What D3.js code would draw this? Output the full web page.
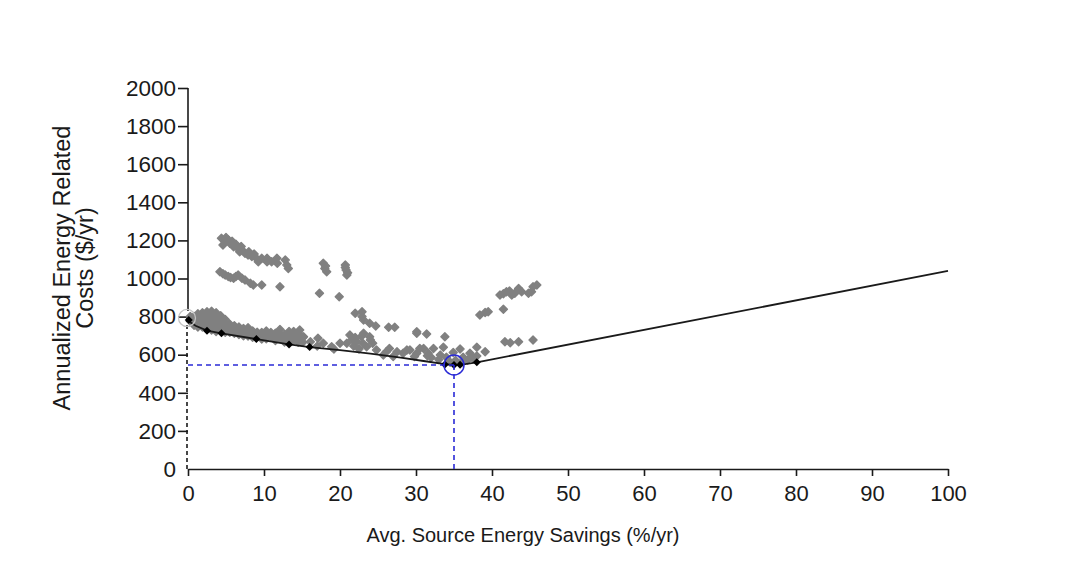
<!DOCTYPE html>
<html><head><meta charset="utf-8">
<script src="https://cdn.jsdelivr.net/npm/d3@7"></script>
<style>body{margin:0;background:#fff} text{font-family:"Liberation Sans",Arial,sans-serif}</style>
</head><body><svg id="c" width="1081" height="563"></svg>
<script>
// ---------- data ----------
const xTicks = [0,10,20,30,40,50,60,70,80,90,100];
const yTicks = [0,200,400,600,800,1000,1200,1400,1600,1800,2000];
const xTitle = "Avg. Source Energy Savings (%/yr)";
const yTitleLines = ["Annualized Energy Related", "Costs ($/yr)"];

// simulated alternatives (savings %, cost $/yr)
const upperBand = [[4.4,1211],[4.9,1193],[4.6,1176],[5.3,1202],[5.5,1185],[6.0,1167],[6.6,1158],[7.1,1150],[7.5,1132],[7.9,1123],[8.4,1115],[9.0,1106],[9.7,1106],[9.25,1088],[10.4,1106],[10.4,1088],[11.0,1088],[11.7,1106],[11.75,1080],[12.8,1097],[13.0,1071],[13.2,1053],[5.0,1215],[5.8,1195],[6.3,1180],[7.0,1168],[8.0,1140],[8.7,1128],[6.8,1140]];
const middleBand = [[4.2,1036],[4.9,1018],[5.3,1010],[6.0,1001],[6.6,1018],[7.1,1001],[7.5,992],[8.2,975],[8.6,966],[9.7,966],[12.1,957],[4.6,1025],[5.6,1005],[6.3,1010]];
const midScatter = [[17.8,1080],[18.0,1053],[18.25,1036],[18.1,1065],[20.7,1071],[20.8,1045],[20.9,1018],[20.7,1058],[21.0,1030],[17.3,922],[19.9,904],[22.0,817],[22.9,826],[22.9,800],[23.1,782],[23.9,765],[24.7,751],[26.4,744],[27.2,744],[30.1,712],[31.4,709],[33.8,694],[23.9,694],[30.1,720]];
const rightCluster = [[41.05,913],[41.9,931],[42.6,913],[43.0,922],[43.5,948],[43.9,931],[44.8,922],[45.2,931],[45.4,957],[45.9,966],[41.5,920],[42.3,935],[38.4,808],[39.1,821],[39.5,826],[41.5,838],[41.7,668],[42.4,663],[43.5,668],[45.4,677]];
const nearFrontLeft = [
 [0.3,800],[0.3,775],[0.8,800],[0.8,775],[0.8,755],
 [1.3,815],[1.3,790],[1.3,765],[1.3,745],[1.9,820],[1.9,795],[1.9,770],[1.9,745],
 [2.5,825],[2.5,800],[2.5,775],[2.5,750],[2.5,735],[3.1,828],[3.1,805],[3.1,780],[3.1,755],[3.1,730],
 [3.7,820],[3.7,795],[3.7,770],[3.7,745],[3.7,722],[4.3,805],[4.3,780],[4.3,755],[4.3,730],
 [4.9,785],[4.9,760],[4.9,735],[4.9,718],[5.5,760],[5.5,738],[5.5,718],[6.1,752],[6.1,730],[6.1,712],
 [6.7,745],[6.7,722],[6.7,706],[7.3,738],[7.3,716],[7.3,700],[7.9,742],[7.9,720],[7.9,698],
 [8.5,725],[8.5,705],[8.5,692],[9.1,718],[9.1,698],[9.7,716],[9.7,695],[9.7,682],
 [10.3,725],[10.3,703],[10.3,684],[10.9,717],[10.9,695],[11.5,712],[11.5,690],[11.5,674],
 [12.1,732],[12.1,708],[12.1,686],[12.7,708],[12.7,685],[12.7,667],[13.3,722],[13.3,700],[13.3,678],
 [13.9,722],[13.9,700],[13.9,676],[14.5,715],[14.5,690],[14.5,665],[15.1,690],[15.1,665]];
const nearFrontRight = [[14.7,730],[15.2,694],[16.1,668],[17.1,686],[17.8,660],[18.9,642],[20.0,660],[19.2,630],[17.0,645],
 [21.3,703],[23.1,712],[24.0,677],[22.2,668],[20.9,660],[23.5,642],[22.0,690],[22.8,695],[21.6,680],[23.0,660],[24.3,660],[21.8,645],[22.5,630],
 [24.8,625],[26.1,616],[27.5,616],[28.3,607],[29.2,625],[30.1,607],[31.0,633],[31.6,607],[25.7,598],[27.0,590],[28.8,625],[30.5,633],
 [32.3,633],[33.6,639],[35.8,630],[38.0,639],[39.1,616],[34.9,611],[37.1,607],[33.2,598],[34.0,586],[36.2,586],[38.0,593],[32.0,585],
 [29.8,590],[35.2,570],[36.8,572],[33.0,575],[37.5,580],[34.5,560],[36.0,560],[31.5,595],[26.5,632]];

// Pareto front (line) and its marked points
const frontLine = [[0,790],[0.3,770],[1,752],[2.5,726],[4.4,712],[9,682],[13.3,654],[16,640],[20,624],[24,606],[28,585],[31,567],[33.8,550],[35,546],[35.8,547],[38,560],[100,1040]];
const frontMarkers = [[0.1,782],[2.5,726],[4.4,712],[9,682],[13.3,654],[16,641],[33.8,548],[35,546],[35.8,547],[38,560]];
const optimum = [35,546];
const reference = [0,793];

// ---------- drawing ----------
const svg = d3.select("#c");
const x = d3.scaleLinear().domain([0,100]).range([188,948]);
const y = d3.scaleLinear().domain([0,2000]).range([469,88]);
const ink = "#1a1a1a";
const font = "Liberation Sans, Arial, sans-serif";

// axes
const xAxis = svg.append("g").attr("transform","translate(0,469)")
  .call(d3.axisBottom(x).tickValues(xTicks).tickFormat(d3.format("d")).tickSize(7).tickSizeOuter(0).tickPadding(9));
xAxis.select(".domain").attr("stroke",ink).attr("stroke-width",1.6);
xAxis.selectAll(".tick line").attr("stroke",ink).attr("stroke-width",1.6);
xAxis.selectAll("text").attr("font-size",22).attr("fill",ink).attr("font-family",font);

const yAxis = svg.append("g").attr("transform","translate(188,0)")
  .call(d3.axisLeft(y).tickValues(yTicks).tickFormat(d3.format("d")).tickSize(10).tickSizeOuter(0).tickPadding(2));
yAxis.select(".domain").remove();
yAxis.selectAll(".tick line").attr("stroke",ink).attr("stroke-width",1.6);
yAxis.selectAll(".tick").filter(d=>d===0).select("line").remove();
yAxis.selectAll("text").attr("font-size",22.5).attr("fill",ink).attr("font-family",font);
// solid part of y axis line
svg.append("line").attr("x1",x(0)).attr("x2",x(0)).attr("y1",y(2000)).attr("y2",y(830))
  .attr("stroke",ink).attr("stroke-width",1.6);

// titles
svg.append("text").attr("x",523).attr("y",542).attr("text-anchor","middle")
  .attr("font-size",20).attr("fill",ink).text(xTitle);
yTitleLines.forEach((t,i)=>{
  svg.append("text").attr("transform",`translate(${70+i*23},268) rotate(-90)`)
    .attr("text-anchor","middle").attr("font-size",23.5).attr("fill",ink).text(t);
});

// gray alternatives
const diamond = "M0,-4L4,0L0,4L-4,0Z";
const allAlt = [].concat(upperBand, middleBand, midScatter, rightCluster, nearFrontLeft, nearFrontRight);
svg.append("g").selectAll("path").data(allAlt).join("path")
  .attr("d",diamond).attr("transform",d=>`translate(${x(d[0])},${y(d[1])})`)
  .attr("fill","#808080").attr("stroke","#808080").attr("stroke-width",1.4).attr("stroke-linejoin","round");

// reference dashed black line at 0% savings
svg.append("line").attr("x1",x(0)-1).attr("x2",x(0)-1).attr("y1",y(reference[1])).attr("y2",y(0))
  .attr("stroke",ink).attr("stroke-width",1.6).attr("stroke-dasharray","4,3");

// front line
svg.append("path").datum(frontLine)
  .attr("d",d3.line().x(d=>x(d[0])).y(d=>y(d[1])))
  .attr("fill","none").attr("stroke",ink).attr("stroke-width",1.8);
svg.append("g").selectAll("path").data(frontMarkers).join("path")
  .attr("d","M0,-4L4,0L0,4L-4,0Z").attr("transform",d=>`translate(${x(d[0])},${y(d[1])})`)
  .attr("fill","#000");

// optimum dashed guides
const blue = "#2a2ad6";
svg.append("line").attr("x1",x(0)).attr("x2",x(optimum[0])).attr("y1",y(optimum[1])).attr("y2",y(optimum[1]))
  .attr("stroke",blue).attr("stroke-width",1.6).attr("stroke-dasharray","5,4");
svg.append("line").attr("x1",x(optimum[0])).attr("x2",x(optimum[0])).attr("y1",y(optimum[1])).attr("y2",y(0))
  .attr("stroke",blue).attr("stroke-width",1.6).attr("stroke-dasharray","5,4");
svg.append("circle").attr("cx",x(optimum[0])).attr("cy",y(optimum[1])).attr("r",10)
  .attr("fill","none").attr("stroke",blue).attr("stroke-width",1.5);
svg.append("circle").attr("cx",x(reference[0])-1).attr("cy",y(reference[1])).attr("r",8.5)
  .attr("fill","none").attr("stroke","#c4c4c4").attr("stroke-width",1.3);
</script></body></html>
